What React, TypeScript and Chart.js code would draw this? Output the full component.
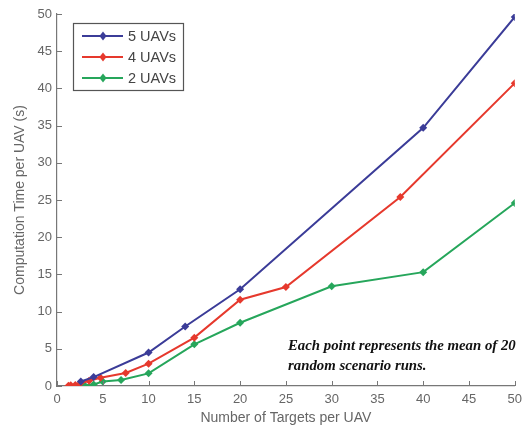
import React, { useEffect, useRef } from "react";
import { Chart, registerables } from "chart.js";

Chart.register(...registerables);

const xTicks = [0, 5, 10, 15, 20, 25, 30, 35, 40, 45, 50];
const yTicks = [0, 5, 10, 15, 20, 25, 30, 35, 40, 45, 50];

const seriesNames = ["5 UAVs", "4 UAVs", "2 UAVs"];
const seriesColors = ["#3b3c98", "#e6392d", "#26a65b"];

const uav5X = [2.6, 4, 10, 14, 20, 40, 50];
const uav5Y = [0.6, 1.2, 4.5, 8.0, 13.0, 34.7, 49.6];

const uav4X = [1.25, 1.5, 2, 2.5, 3.5, 4.75, 7.5, 10, 15, 20, 25, 37.5, 50];
const uav4Y = [0.05, 0.1, 0.15, 0.3, 0.7, 1.1, 1.75, 3.0, 6.5, 11.6, 13.3, 25.4, 40.7];

const uav2X = [3, 4, 5, 7, 10, 15, 20, 30, 40, 50];
const uav2Y = [0.1, 0.2, 0.6, 0.8, 1.7, 5.6, 8.5, 13.4, 15.3, 24.6];

const noteLines = ["Each point represents the mean of 20", "random scenario runs."];
const xTitle = "Number of Targets per UAV";
const yTitle = "Computation Time per UAV (s)";

const toPoints = (xs: number[], ys: number[]) => xs.map((x, i) => ({ x, y: ys[i] }));

const innerTicks = {
  id: "innerTicks",
  afterDraw(chart: any) {
    const { ctx, chartArea, scales } = chart;
    ctx.save();
    ctx.strokeStyle = "#777";
    ctx.lineWidth = 1;
    const len = 5;
    for (const v of xTicks) {
      const px = Math.round(scales.x.getPixelForValue(v)) + 0.5;
      ctx.beginPath();
      ctx.moveTo(px, chartArea.bottom);
      ctx.lineTo(px, chartArea.bottom - len);
      ctx.stroke();
    }
    for (const v of yTicks) {
      const py = Math.round(scales.y.getPixelForValue(v)) + 0.5;
      ctx.beginPath();
      ctx.moveTo(chartArea.left, py);
      ctx.lineTo(chartArea.left + len, py);
      ctx.stroke();
    }
    ctx.restore();
  },
};

const legendBox = {
  id: "legendBox",
  afterDraw(chart: any) {
    const { ctx, chartArea } = chart;
    const x0 = chartArea.left + 16;
    const y0 = chartArea.top + 9;
    const w = 110;
    const h = 67;
    ctx.save();
    ctx.fillStyle = "#fff";
    ctx.fillRect(x0, y0, w, h);
    ctx.strokeStyle = "#555";
    ctx.lineWidth = 1.2;
    ctx.strokeRect(x0 + 0.5, y0 + 0.5, w, h);
    ctx.font = "14.5px 'Liberation Sans', Arial, sans-serif";
    ctx.textBaseline = "middle";
    seriesNames.forEach((name, i) => {
      const yy = y0 + 13 + i * 21;
      ctx.strokeStyle = seriesColors[i];
      ctx.lineWidth = 2;
      ctx.beginPath();
      ctx.moveTo(x0 + 9, yy);
      ctx.lineTo(x0 + 50, yy);
      ctx.stroke();
      ctx.fillStyle = seriesColors[i];
      ctx.beginPath();
      const cx = x0 + 30;
      ctx.moveTo(cx, yy - 4.5);
      ctx.lineTo(cx + 3.5, yy);
      ctx.lineTo(cx, yy + 4.5);
      ctx.lineTo(cx - 3.5, yy);
      ctx.closePath();
      ctx.fill();
      ctx.fillStyle = "#444";
      ctx.fillText(name, x0 + 55, yy + 1);
    });
    ctx.restore();
  },
};

const noteText = {
  id: "noteText",
  afterDraw(chart: any) {
    const { ctx, chartArea } = chart;
    ctx.save();
    ctx.fillStyle = "#111";
    ctx.font = "italic bold 14.8px 'Liberation Serif', 'DejaVu Serif', serif";
    ctx.textBaseline = "middle";
    ctx.fillText(noteLines[0], chartArea.left + 231, chartArea.bottom - 40);
    ctx.fillText(noteLines[1], chartArea.left + 231, chartArea.bottom - 20);
    ctx.restore();
  },
};

export default function App() {
  const ref = useRef<HTMLCanvasElement>(null);
  useEffect(() => {
    document.body.style.margin = "0";
    const canvas = ref.current!;
    const mk = (i: number, xs: number[], ys: number[]) => ({
      label: seriesNames[i],
      data: toPoints(xs, ys),
      borderColor: seriesColors[i],
      backgroundColor: seriesColors[i],
      borderWidth: 2,
      pointStyle: "rectRot" as const,
      pointRadius: 4,
      pointBorderWidth: 0,
      tension: 0,
    });
    const chart = new Chart(canvas, {
      type: "line",
      data: {
        datasets: [mk(0, uav5X, uav5Y), mk(1, uav4X, uav4Y), mk(2, uav2X, uav2Y)],
      },
      options: {
        animation: false,
        responsive: false,
        maintainAspectRatio: false,
        layout: { padding: { top: 14, right: 10, left: 0, bottom: 0 } },
        plugins: { legend: { display: false }, tooltip: { enabled: false } },
        scales: {
          x: {
            type: "linear",
            min: 0,
            max: 50,
            afterBuildTicks: (s: any) => {
              s.ticks = xTicks.map((v) => ({ value: v }));
            },
            afterFit: (s: any) => {
              s.height = 41;
            },
            grid: { display: false, drawTicks: false },
            border: { display: true, color: "#777", width: 1.2 },
            ticks: {
              color: "#666",
              padding: 6,
              maxRotation: 0,
              autoSkip: false,
              font: { family: "'Liberation Sans', Arial, sans-serif", size: 13 },
            },
            title: {
              display: true,
              text: xTitle,
              color: "#666",
              padding: { top: 0, bottom: 0 },
              font: { family: "'Liberation Sans', Arial, sans-serif", size: 14 },
            },
          },
          y: {
            type: "linear",
            min: 0,
            max: 50,
            afterBuildTicks: (s: any) => {
              s.ticks = yTicks.map((v) => ({ value: v }));
            },
            afterFit: (s: any) => {
              s.width = 57;
            },
            grid: { display: false, drawTicks: false },
            border: { display: true, color: "#777", width: 1.2 },
            ticks: {
              color: "#666",
              padding: 5,
              autoSkip: false,
              font: { family: "'Liberation Sans', Arial, sans-serif", size: 13 },
            },
            title: {
              display: true,
              text: yTitle,
              color: "#666",
              padding: { top: 12, bottom: 0 },
              font: { family: "'Liberation Sans', Arial, sans-serif", size: 14 },
            },
          },
        },
      },
      plugins: [innerTicks, legendBox, noteText],
    });
    return () => chart.destroy();
  }, []);
  return (
    <div style={{ width: 528, height: 427 }}>
      <canvas ref={ref} width={528} height={427} />
    </div>
  );
}
